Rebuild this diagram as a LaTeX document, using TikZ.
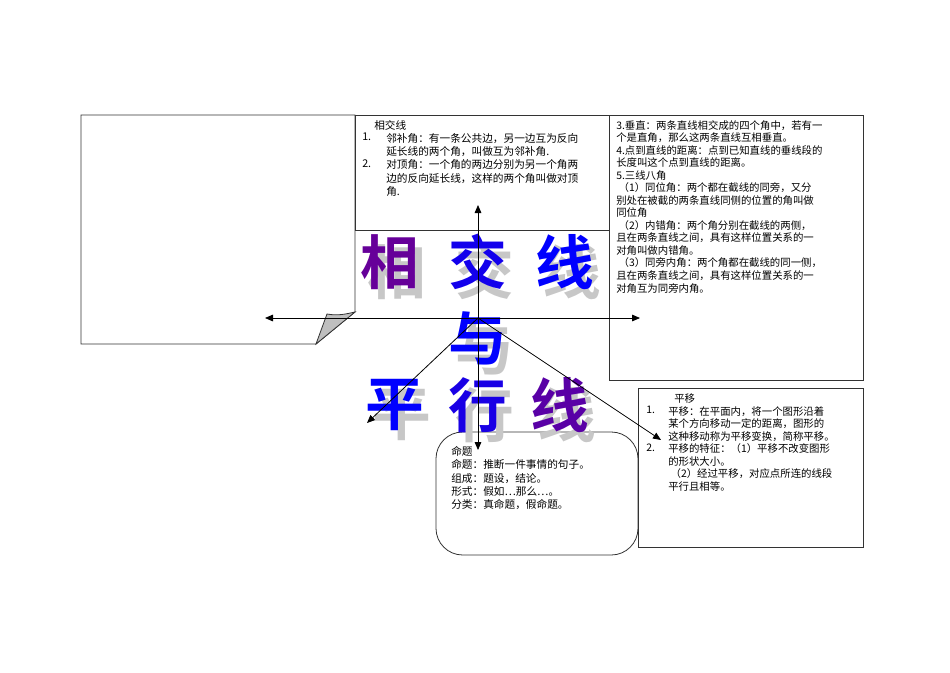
\documentclass[tikz,border=0pt]{standalone}
\usepackage{fontspec}
\setmainfont{Noto Sans CJK SC}
\newfontfamily\cjkb{Noto Sans CJK SC Bold}
\usetikzlibrary{arrows.meta}
\begin{document}
\begin{tikzpicture}[x=0.75pt,y=-0.75pt,
  box/.style={draw=black!80,line width=0.6pt},
  txt/.style={anchor=north west,align=left,inner sep=0pt,font=\fontsize{8}{10}\selectfont},
  tight/.style={font=\fontsize{7.8}{9.4}\selectfont},
  ax/.style={line width=0.6pt,-{Triangle[length=6pt,width=5pt]}},
  big/.style={font=\cjkb\fontsize{44}{44}\selectfont,inner sep=0pt},
  sh/.style={big,text=black!22}]
\useasboundingbox (0,0) rectangle (950,672);
% note
\draw[box,fill=white] (81,115)--(355,115)--(355,312)--(316,344)--(81,344)--cycle;
\draw[box,fill=black!25] (316,344)--(327,314) .. controls (338,316) and (346,314) .. (355,312)--cycle;
\coordinate (c) at (478,318);
% boxes
\draw[box] (355,115) rectangle (609,230);
\draw[box] (609,115) rectangle (863,380);
\draw[box] (638,388) rectangle (863,547);
\draw[box,rounded corners=20pt] (436,432) rectangle (638,555);
% big title
\foreach \t/\x/\y/\c in {相/390/262/violet!80!blue,交/478/262/blue!85!violet,线/565/262/blue,与/478/338/blue,平/395/405/blue,行/478/405/blue!80!violet,线/560/405/violet!70!blue}{
  \node[sh] at (\x+7,\y+10) {\t};
  \node[big,text=\c] at (\x,\y) {\t};
}
% axes
\coordinate (l) at (265,318); \coordinate (r) at (640,318);
\coordinate (u) at (478,205); \coordinate (d) at (478,450);
\coordinate (dl) at (367,423); \coordinate (dr) at (661,440);
\draw[ax] (c)--(l); \draw[ax] (c)--(r); \draw[ax] (c)--(u); \draw[ax] (c)--(d);
\draw[ax] (c)--(dl); \draw[ax] (c)--(dr);
% texts
\node[txt] (t1) at (374,120) {相交线};
\node[txt] (t1a) at (362,133) {1.\\ \\2.\\ \\ };
\node[txt] (t1b) at (386,133) {邻补角：有一条公共边，另一边互为反向\\延长线的两个角，叫做互为邻补角.\\对顶角：一个角的两边分别为另一个角两\\边的反向延长线，这样的两个角叫做对顶\\角.};
\node[txt,tight] (t2) at (616,120) {3.垂直：两条直线相交成的四个角中，若有一\\个是直角，那么这两条直线互相垂直。\\4.点到直线的距离：点到已知直线的垂线段的\\长度叫这个点到直线的距离。\\5.三线八角\\\ （1）同位角：两个都在截线的同旁，又分\\别处在被截的两条直线同侧的位置的角叫做\\同位角\\\ （2）内错角：两个角分别在截线的两侧，\\且在两条直线之间，具有这样位置关系的一\\对角叫做内错角。\\\ （3）同旁内角：两个角都在截线的同一侧，\\且在两条直线之间，具有这样位置关系的一\\对角互为同旁内角。};
\node[txt,tight] (t3) at (674,393) {平移};
\node[txt,tight] (t3a) at (646,406) {1.\\ \\ \\2.};
\node[txt,tight] (t3b) at (668,406) {平移：在平面内，将一个图形沿着\\某个方向移动一定的距离，图形的\\这种移动称为平移变换，简称平移。\\平移的特征：（1）平移不改变图形\\的形状大小。\\\ （2）经过平移，对应点所连的线段\\平行且相等。};
\node[txt] (t4) at (451,446) {命题\\命题：推断一件事情的句子。\\组成：题设，结论。\\形式：假如…那么…。\\分类：真命题，假命题。};
\end{tikzpicture}
\end{document}
